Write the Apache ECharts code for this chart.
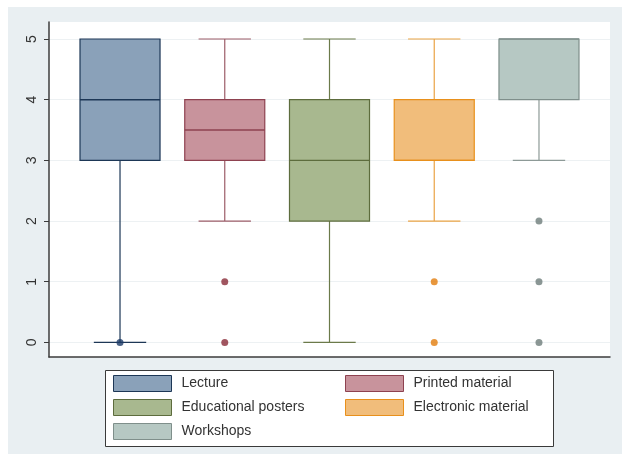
<!DOCTYPE html>
<html>
<head>
<meta charset="utf-8">
<script src="https://cdn.jsdelivr.net/npm/echarts@6/dist/echarts.min.js"></script>
<style>
  html, body { margin: 0; padding: 0; background: #ffffff; }
  #chart { width: 622px; height: 454px; }
</style>
</head>
<body>
<div id="chart"></div>
<script>
// Ratings (0-5) for each teaching method
const categories = ['Lecture', 'Printed material', 'Educational posters', 'Electronic material', 'Workshops'];
const lowerWhisker = [0, 2, 0, 2, 3];
const q1 = [3, 3, 2, 3, 4];
const median = [4, 3.5, 3, 3, 5];
const q3 = [5, 4, 4, 4, 5];
const upperWhisker = [5, 5, 5, 5, 5];
const outliers = [[0], [1, 0], [], [1, 0], [2, 1, 0]];
const yTicks = [0, 1, 2, 3, 4, 5];

// Per-method palette: box fill, box outline, whisker, outlier dot
const fills = ['#8aa1b9', '#c8939c', '#a8b88f', '#f1bd7b', '#b6c8c3'];
const borders = ['#1d3756', '#8e4250', '#5d6c3d', '#e8901c', '#7f8f8b'];
const whiskers = ['#1d3756', '#9c5c68', '#6b7a4a', '#eaa345', '#8d9a97'];
const dots = ['#1c3a66', '#8a2c38', '#5d6c3d', '#e27d0c', '#6e7d7b'];

const BOX_W = 0.764;   // box width in category units
const CAP_W = 0.5;     // whisker cap width in category units

function renderBox(idx) {
  return function (params, api) {
    const x = api.value(0);
    const pLo = api.coord([x, api.value(1)]);
    const pQ1 = api.coord([x, api.value(2)]);
    const pMed = api.coord([x, api.value(3)]);
    const pQ3 = api.coord([x, api.value(4)]);
    const pHi = api.coord([x, api.value(5)]);
    const bw = api.size([BOX_W, 0])[0];
    const cw = api.size([CAP_W, 0])[0];
    const cx = pQ1[0];
    const wStyle = { stroke: whiskers[idx], lineWidth: 1.2 };
    const children = [];
    if (pLo[1] !== pQ1[1]) {
      children.push({ type: 'line', shape: { x1: cx, y1: pQ1[1], x2: cx, y2: pLo[1] }, style: wStyle });
    }
    children.push({ type: 'line', shape: { x1: cx - cw / 2, y1: pLo[1], x2: cx + cw / 2, y2: pLo[1] }, style: wStyle });
    if (pHi[1] !== pQ3[1]) {
      children.push({ type: 'line', shape: { x1: cx, y1: pQ3[1], x2: cx, y2: pHi[1] }, style: wStyle });
      children.push({ type: 'line', shape: { x1: cx - cw / 2, y1: pHi[1], x2: cx + cw / 2, y2: pHi[1] }, style: wStyle });
    }
    children.push({
      type: 'rect',
      shape: { x: cx - bw / 2, y: pQ3[1], width: bw, height: pQ1[1] - pQ3[1] },
      style: { fill: fills[idx], stroke: borders[idx], lineWidth: 1.2 }
    });
    children.push({
      type: 'line',
      shape: { x1: cx - bw / 2, y1: pMed[1], x2: cx + bw / 2, y2: pMed[1] },
      style: { stroke: borders[idx], lineWidth: 1.4 }
    });
    return { type: 'group', children: children };
  };
}

const series = [];
categories.forEach(function (name, i) {
  series.push({
    name: name,
    type: 'custom',
    renderItem: renderBox(i),
    encode: { x: 0, y: [1, 2, 3, 4, 5] },
    itemStyle: { color: fills[i], borderColor: borders[i] },
    data: [[i, lowerWhisker[i], q1[i], median[i], q3[i], upperWhisker[i]]],
    z: 3
  });
  series.push({
    name: name,
    type: 'scatter',
    symbol: 'circle',
    symbolSize: 7,
    itemStyle: { color: dots[i] },
    data: outliers[i].map(function (v) { return [i, v]; }),
    z: 4
  });
});

function legendItem(i) {
  return {
    name: categories[i],
    icon: 'rect',
    itemStyle: { color: fills[i], borderColor: borders[i], borderWidth: 1 }
  };
}

const legendCommon = {
  orient: 'vertical',
  top: 370,
  itemWidth: 58,
  itemHeight: 16,
  itemGap: 7,
  selectedMode: false,
  textStyle: { fontSize: 14, color: '#333333', fontFamily: 'Liberation Sans', padding: [0, 0, 0, 5] }
};

const chart = echarts.init(document.getElementById('chart'), null, { renderer: 'canvas' });
chart.setOption({
  backgroundColor: '#ffffff',
  animation: false,
  graphic: [
    {
      type: 'rect', z: -10, silent: true,
      shape: { x: 8, y: 7, width: 614, height: 447 },
      style: { fill: '#e9eff2' }
    },
    {
      type: 'rect', z: -5, silent: true,
      shape: { x: 105.5, y: 370.5, width: 448, height: 76 },
      style: { fill: '#ffffff', stroke: '#3a3a3a', lineWidth: 1 }
    }
  ],
  grid: {
    left: 49, right: 12, top: 22, bottom: 97,
    show: true, backgroundColor: '#ffffff', borderWidth: 0
  },
  xAxis: {
    type: 'value',
    min: -0.678,
    max: 4.678,
    axisLine: { show: true, onZero: false, lineStyle: { color: '#3c3c3c', width: 1.5 } },
    axisTick: { show: false },
    axisLabel: { show: false },
    splitLine: { show: false }
  },
  yAxis: {
    type: 'value',
    min: -0.24,
    max: 5.28,
    axisLine: { show: true, onZero: false, lineStyle: { color: '#3c3c3c', width: 1.5 } },
    axisTick: { show: true, length: 5, customValues: yTicks, lineStyle: { color: '#3c3c3c', width: 1 } },
    axisLabel: {
      customValues: yTicks,
      rotate: 90, margin: 10, fontSize: 14, color: '#333333', fontFamily: 'Liberation Sans'
    },
    splitLine: { show: true, lineStyle: { color: '#edf1f3', width: 1 } }
  },
  legend: [
    Object.assign({ left: 108, data: [legendItem(0), legendItem(2), legendItem(4)] }, legendCommon),
    Object.assign({ left: 340, data: [legendItem(1), legendItem(3)] }, legendCommon)
  ],
  series: series
});
</script>
</body>
</html>
